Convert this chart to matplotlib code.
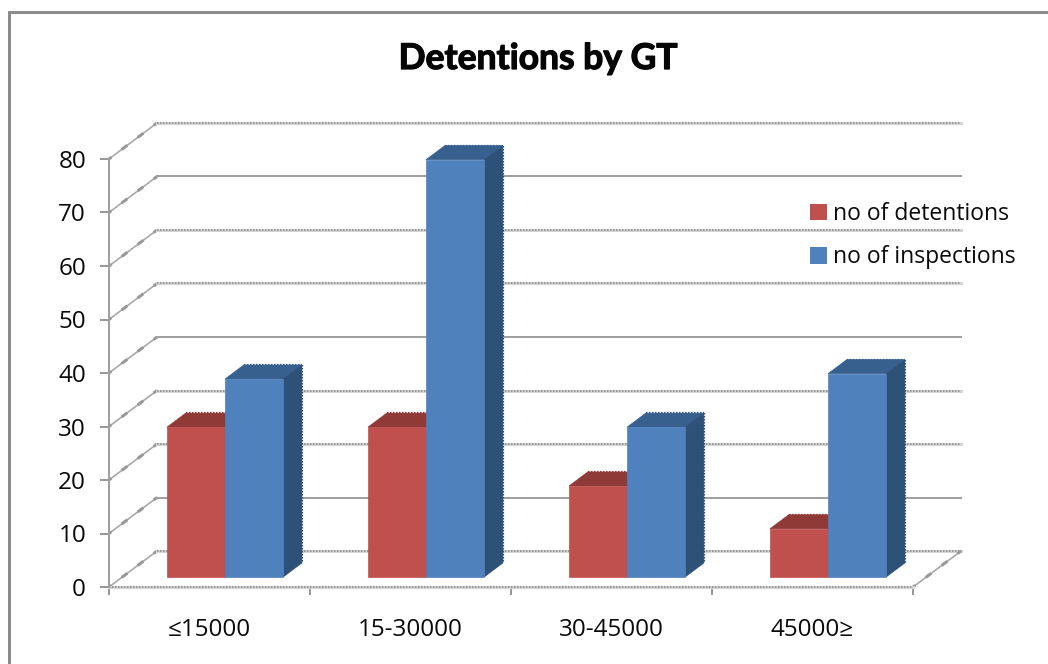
#!/usr/bin/env python3

import matplotlib
matplotlib.use('Agg')
import matplotlib.pyplot as plt
import matplotlib.patheffects as pe
from matplotlib.patches import Patch, Polygon

categories = ['≤15000', '15-30000', '30-45000', '45000≥']
detentions = [28, 28, 17, 9]
inspections = [37, 78, 28, 38]
value_ticks = [0, 10, 20, 30, 40, 50, 60, 70, 80]
# wall gridlines that come out with the jagged rendering
jagged_ticks = [0, 20, 30, 50, 60, 80]

RED = ('#C0504D', '#8F3A37', '#7A302E')
BLUE = ('#4F81BD', '#38608F', '#2E5178')
GRID_DARK = '#989898'
GRID_LIGHT = '#D4D4D4'

# depth of the floor, in x units and value units
DX = 48 / 201
DY = 36 / 5.35
BAR_LEFT = 0.222
BAR_WIDTH = 0.289
BAR_FRONT = 0.278
BAR_BACK = 0.668

PX = 0.72
plt.rcParams['lines.scale_dashes'] = False
plt.rcParams['font.family'] = ['Open Sans', 'DejaVu Sans']


def project(x, value, depth):
    return (x + depth * DX, value + depth * DY)


def diagonal(ax, p, q):
    xs, ys = [p[0], q[0]], [p[1], q[1]]
    ax.plot(xs, ys, color='#A6A6A6', lw=1.6 * PX, clip_on=False, zorder=1)
    ax.plot(xs, ys, color=GRID_DARK, lw=3 * PX, linestyle=(3, (7 * PX, 13 * PX)),
            clip_on=False, zorder=1)


def wall_line(ax, tick):
    corner = project(0, tick, 1)
    end = project(4, tick, 1)
    diagonal(ax, project(0, tick, 0), corner)
    xs, ys = [corner[0], end[0]], [corner[1], end[1]]
    if tick in jagged_ticks:
        ax.plot(xs, ys, color=GRID_LIGHT, lw=3 * PX, clip_on=False, zorder=1)
        ax.plot(xs, ys, color=GRID_DARK, lw=2 * PX, linestyle=(0, (1.5 * PX, 1.5 * PX)),
                clip_on=False, zorder=1)
    else:
        ax.plot(xs, ys, color='#A0A0A0', lw=2 * PX, clip_on=False, zorder=1)


def draw_bar(ax, left, value, colors):
    front, top, side = colors
    right = left + BAR_WIDTH
    a = project(left, 0, BAR_FRONT)
    b = project(right, 0, BAR_FRONT)
    c = project(right, value, BAR_FRONT)
    d = project(left, value, BAR_FRONT)
    e = project(left, value, BAR_BACK)
    f = project(right, value, BAR_BACK)
    g = project(right, 0, BAR_BACK)
    ax.add_patch(Polygon([d, e, f, c], facecolor=top, edgecolor=top, lw=0.5, clip_on=False, zorder=3))
    ax.add_patch(Polygon([b, g, f, c], facecolor=side, edgecolor=side, lw=0.5, clip_on=False, zorder=3))
    ax.add_patch(Polygon([a, b, c, d], facecolor=front, edgecolor=front, lw=0.5, clip_on=False, zorder=3))
    # rough pixel edge along the back of the bar
    for p, q, col in [(e, f, top), (f, g, side)]:
        ax.plot([p[0], q[0]], [p[1], q[1]], color=col, lw=2.2 * PX,
                linestyle=(0, (1.5 * PX, 1.5 * PX)), clip_on=False, zorder=3)


fig = plt.figure(figsize=(10.48, 6.64), dpi=100)
ax = fig.add_axes([109 / 1048, (664 - 587) / 664, 804 / 1048, (587 - 159) / 664])
ax.set_xlim(0, 4)
ax.set_ylim(0, 80)
ax.patch.set_alpha(0)

for tick in value_ticks:
    wall_line(ax, tick)

# right edge of the floor
diagonal(ax, project(4, 0, 0), project(4, 0, 1))

for i, (det, insp) in enumerate(zip(detentions, inspections)):
    draw_bar(ax, i + BAR_LEFT, det, RED)
    draw_bar(ax, i + BAR_LEFT + BAR_WIDTH, insp, BLUE)

# front axis line is jagged as well
ax.plot([0, 4], [0, 0], color=GRID_LIGHT, lw=3 * PX, clip_on=False, zorder=2)
ax.plot([0, 4], [0, 0], color=GRID_DARK, lw=2 * PX, linestyle=(0, (1.5 * PX, 1.5 * PX)),
        clip_on=False, zorder=2)

for side in ['top', 'right', 'bottom']:
    ax.spines[side].set_visible(False)
ax.spines['left'].set_color('#A0A0A0')
ax.spines['left'].set_linewidth(2 * PX)

ax.set_yticks(value_ticks)
ax.set_xticks(range(len(categories) + 1))
ax.set_xticklabels([])
ax.set_xticks([i + 0.5 for i in range(len(categories))], minor=True)
ax.set_xticklabels(categories, minor=True, fontsize=17.5, color='#0A0A0A')
ax.tick_params(axis='y', length=9 * PX, width=2 * PX, color=GRID_DARK,
               labelsize=17.5, labelcolor='#0A0A0A', pad=10)
ax.tick_params(axis='x', which='major', length=8 * PX, width=2 * PX, color=GRID_DARK)
ax.tick_params(axis='x', which='minor', length=0, pad=22)

fig.text(538 / 1048, 1 - 59 / 664, 'Detentions by GT', ha='center', va='center',
         fontsize=25.5, fontweight='bold', color='#050505',
         family=['Lato', 'Open Sans', 'DejaVu Sans'],
         path_effects=[pe.withStroke(linewidth=0.9, foreground='#050505')])

handles = [Patch(facecolor=RED[0], label='no of detentions'),
           Patch(facecolor=BLUE[0], label='no of inspections')]
ax.legend(handles=handles, loc='upper left', frameon=False,
          bbox_to_anchor=(810 / 1048, 1 - 202 / 664), bbox_transform=fig.transFigure,
          fontsize=16.5, handlelength=0.75, handleheight=0.75, handletextpad=0.26,
          labelspacing=0.85, borderpad=0, borderaxespad=0, labelcolor='#0A0A0A')

# chart frame, open on the right and bottom
fig.add_artist(plt.Line2D([9 / 1048, 9 / 1048, 1], [0, 1 - 12 / 664, 1 - 12 / 664],
                          color='#8C8C8C', lw=3 * PX, transform=fig.transFigure,
                          solid_joinstyle='miter'))

fig.savefig('out.png', dpi=100)
